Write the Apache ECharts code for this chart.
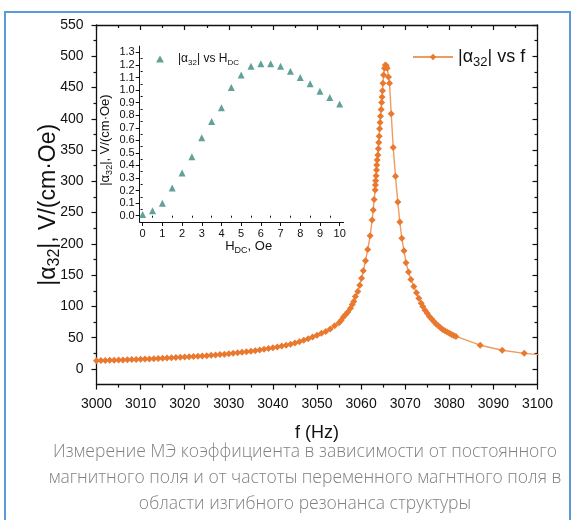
<!DOCTYPE html>
<html>
<head>
<meta charset="utf-8">
<script src="https://cdn.jsdelivr.net/npm/echarts@6/dist/echarts.min.js"></script>
<style>
  html, body { margin: 0; padding: 0; background: #ffffff; }
  #chart { width: 574px; height: 520px; }
</style>
</head>
<body>
<div id="chart"></div>
<script>
// Frequency sweep across the bending resonance: f (Hz) and |α32|, V/(cm·Oe)
const sweepFreq = [
  3000, 3001, 3002, 3003, 3004, 3005, 3006, 3007, 3008, 3009,
  3010, 3011, 3012, 3013, 3014, 3015, 3016, 3017, 3018, 3019,
  3020, 3021, 3022, 3023, 3024, 3025, 3026, 3027, 3028, 3029,
  3030, 3031, 3032, 3033, 3034, 3035, 3036, 3037, 3038, 3039,
  3040, 3041, 3042, 3043, 3044, 3045, 3046, 3047, 3048, 3049,
  3050, 3051, 3052, 3053, 3054, 3055, 3055.5, 3056, 3056.5, 3057,
  3057.6, 3058.0, 3058.35, 3058.7, 3059.25, 3059.7, 3060.1, 3060.5, 3061.0, 3061.5,
  3062.05, 3062.5, 3062.75, 3062.95, 3063.2, 3063.25, 3063.3, 3063.4, 3063.5, 3063.55,
  3063.65, 3063.8, 3063.9, 3064.0, 3064.1, 3064.2, 3064.3, 3064.4, 3064.55, 3064.65,
  3064.75, 3064.85, 3064.95, 3065.1, 3065.3, 3065.5, 3065.7, 3065.92, 3066.21, 3066.44,
  3066.83, 3067.28, 3067.8, 3068.32, 3068.78, 3069.23, 3069.73, 3070.18, 3070.75, 3071.3,
  3071.95, 3072.56, 3073.08, 3073.63, 3074.0, 3074.5, 3075.0, 3075.5, 3076.0, 3076.5,
  3077.0, 3077.5, 3078.0, 3078.5, 3079.0, 3079.5, 3080.0, 3080.5, 3081.0, 3081.5,
  3087, 3092, 3097, 3102
];
const sweepAlpha = [
  13.2, 13.4, 13.6, 13.8, 14.0, 14.3, 14.5, 14.8, 15.0, 15.3,
  15.6, 15.9, 16.1, 16.5, 16.8, 17.1, 17.5, 17.8, 18.2, 18.6,
  19.0, 19.4, 19.9, 20.3, 20.8, 21.3, 21.9, 22.4, 23.0, 23.7,
  24.3, 25.0, 25.8, 26.6, 27.4, 28.3, 29.3, 30.3, 31.4, 32.6,
  33.9, 35.2, 36.6, 38.1, 39.7, 41.6, 43.6, 46, 48.5, 51,
  54, 57, 60, 64, 69, 74, 78, 83, 87, 91,
  97, 103, 108, 116, 124, 134, 145, 157, 173, 191,
  213, 238, 254, 271, 286, 294, 301, 309, 318, 326,
  334, 342, 352, 362, 372, 384, 394, 404, 415, 426,
  435, 445, 457, 470, 481, 486, 485, 481, 467, 457,
  408, 354, 308, 267, 235, 209, 189, 170, 155, 143,
  132, 122, 113, 105, 100, 94, 89, 84, 80, 76,
  72, 69, 66, 63, 61, 59, 57, 55, 53.5, 52,
  38, 30, 25, 22
];

// DC bias field dependence: H_DC (Oe) and |α32|
const fieldHdc = [0, 0.5, 1, 1.5, 2, 2.5, 3, 3.5, 4, 4.5, 5, 5.5, 6, 6.5, 7, 7.5, 8, 8.5, 9, 9.5, 10];
const fieldAlpha = [0.01, 0.04, 0.10, 0.22, 0.34, 0.47, 0.62, 0.75, 0.86, 1.02, 1.12, 1.19, 1.21, 1.21, 1.19, 1.15, 1.10, 1.05, 0.99, 0.94, 0.89];

// Tick positions
const alphaMajorTicks = [0, 50, 100, 150, 200, 250, 300, 350, 400, 450, 500, 550];
const alphaMinorTicks = [25, 75, 125, 175, 225, 275, 325, 375, 425, 475, 525];
const hdcMajorTicks = [0, 1, 2, 3, 4, 5, 6, 7, 8, 9, 10];
const hdcMinorTicks = [0.5, 1.5, 2.5, 3.5, 4.5, 5.5, 6.5, 7.5, 8.5, 9.5];
const insetMajorTicks = [0, 0.1, 0.2, 0.3, 0.4, 0.5, 0.6, 0.7, 0.8, 0.9, 1.0, 1.1, 1.2, 1.3];
const insetMinorTicks = [0.05, 0.15, 0.25, 0.35, 0.45, 0.55, 0.65, 0.75, 0.85, 0.95, 1.05, 1.15, 1.25];

const captionLines = [
  'Измерение МЭ коэффициента в зависимости от постоянного',
  'магнитного поля и от частоты переменного магнтного поля в',
  'области изгибного резонанса структуры'
];

const sweepData = sweepFreq.map((f, i) => [f, sweepAlpha[i]]);
const fieldData = fieldHdc.map((h, i) => [h, fieldAlpha[i]]);

const FONT = 'Liberation Sans, Arial, sans-serif';
const INK = '#111111';
const ORANGE = '#e8792f';
const TEAL = '#3a8a7e';

const subRich = (size, drop) => ({ sub: { fontSize: size, fontFamily: FONT, color: INK, padding: [drop, 0, 0, 0] } });

function valueAxis(opts) {
  return Object.assign({
    type: 'value',
    scale: false,
    nameMoveOverlap: false,
    splitLine: { show: false },
    axisLine: { show: true, onZero: false, lineStyle: { color: INK, width: 1.3 } },
    axisTick: { show: false },
    axisLabel: { show: false },
    minorTick: { show: false }
  }, opts);
}

const chart = echarts.init(document.getElementById('chart'), null, { renderer: 'canvas' });

chart.setOption({
  animation: false,
  backgroundColor: '#ffffff',
  grid: [
    { left: 96.5, right: 36.5, top: 25, bottom: 135.4, containLabel: false },
    { left: 139.7, top: 46.1, width: 203.9, height: 175.9, containLabel: false }
  ],
  xAxis: [
    valueAxis({
      gridIndex: 0, position: 'bottom', min: 3000, max: 3100, interval: 10,
      axisTick: { show: true, inside: false, length: 5, lineStyle: { color: INK, width: 1.2 } },
      minorTick: { show: true, splitNumber: 2, length: 3, lineStyle: { color: INK, width: 1.2 } },
      axisLabel: { show: true, margin: 13, fontFamily: FONT, fontSize: 14, color: INK, formatter: v => String(v) },
      name: 'f (Hz)', nameLocation: 'middle', nameGap: 39,
      nameTextStyle: { fontFamily: FONT, fontSize: 18, color: INK }
    }),
    valueAxis({
      gridIndex: 0, position: 'top', min: 3000, max: 3100, interval: 10,
      axisTick: { show: true, inside: true, length: 5, lineStyle: { color: INK, width: 1.2 } },
      minorTick: { show: true, splitNumber: 2, length: 3, lineStyle: { color: INK, width: 1.2 } }
    }),
    valueAxis({
      gridIndex: 1, position: 'bottom', min: -0.15, max: 10.2,
      axisLine: { show: true, onZero: false, lineStyle: { color: INK, width: 1 } },
      axisTick: { show: true, inside: false, length: 4, customValues: hdcMajorTicks, lineStyle: { color: INK, width: 1 } },
      axisLabel: { show: true, margin: 6, customValues: hdcMajorTicks, fontFamily: FONT, fontSize: 11, color: INK },
      name: 'H{sub|DC}, Oe', nameLocation: 'middle', nameGap: 16,
      nameTextStyle: { fontFamily: FONT, fontSize: 13, color: INK, padding: [0, 0, 0, 14], rich: subRich(9, 8) }
    }),
    valueAxis({
      gridIndex: 1, position: 'bottom', min: -0.15, max: 10.2,
      axisLine: { show: false },
      axisTick: { show: true, inside: false, length: 2, customValues: hdcMinorTicks, lineStyle: { color: INK, width: 1 } }
    })
  ],
  yAxis: [
    valueAxis({
      gridIndex: 0, position: 'left', min: -25, max: 550,
      axisTick: { show: true, inside: false, length: 5, customValues: alphaMajorTicks, lineStyle: { color: INK, width: 1.2 } },
      axisLabel: { show: true, margin: 13, customValues: alphaMajorTicks, fontFamily: FONT, fontSize: 14, color: INK },
      name: '|α{sub|32}|, V/(cm·Oe)', nameLocation: 'middle', nameGap: 34, nameRotate: 90,
      nameTextStyle: { fontFamily: FONT, fontSize: 23, color: INK, rich: subRich(16, 11) }
    }),
    valueAxis({
      gridIndex: 0, position: 'left', min: -25, max: 550,
      axisLine: { show: false },
      axisTick: { show: true, inside: false, length: 3, customValues: alphaMinorTicks, lineStyle: { color: INK, width: 1.2 } }
    }),
    valueAxis({
      gridIndex: 0, position: 'right', min: -25, max: 550,
      axisTick: { show: true, inside: true, length: 5, customValues: alphaMajorTicks, lineStyle: { color: INK, width: 1.2 } }
    }),
    valueAxis({
      gridIndex: 0, position: 'right', min: -25, max: 550,
      axisLine: { show: false },
      axisTick: { show: true, inside: true, length: 3, customValues: alphaMinorTicks, lineStyle: { color: INK, width: 1.2 } }
    }),
    valueAxis({
      gridIndex: 1, position: 'left', min: -0.05, max: 1.35,
      axisLine: { show: true, onZero: false, lineStyle: { color: INK, width: 1 } },
      axisTick: { show: true, inside: false, length: 4, customValues: insetMajorTicks, lineStyle: { color: INK, width: 1 } },
      axisLabel: {
        show: true, margin: 5, customValues: insetMajorTicks, fontFamily: FONT, fontSize: 11, color: INK,
        formatter: v => v.toFixed(1)
      },
      name: '|α{sub|32}|, V/(cm·Oe)', nameLocation: 'middle', nameGap: 26, nameRotate: 90,
      nameTextStyle: { fontFamily: FONT, fontSize: 13, color: INK, padding: [0, 12, 0, 0], rich: subRich(9, 7) }
    }),
    valueAxis({
      gridIndex: 1, position: 'left', min: -0.05, max: 1.35,
      axisLine: { show: false },
      axisTick: { show: true, inside: false, length: 2, customValues: insetMinorTicks, lineStyle: { color: INK, width: 1 } }
    })
  ],
  legend: [
    {
      data: ['sweep'], left: 407, top: 43, itemWidth: 40, itemHeight: 8, itemGap: 0,
      formatter: () => '|α{sub|32}| vs f',
      textStyle: { fontFamily: FONT, fontSize: 18, color: INK, rich: subRich(13, 10) }
    },
    {
      data: ['field'], left: 151, top: 48, itemWidth: 8, itemHeight: 7, itemGap: 0,
      formatter: () => '|α{sub|32}| vs H{sub|DC}',
      textStyle: { fontFamily: FONT, fontSize: 12, color: INK, padding: [0, 0, 0, 9], rich: subRich(8, 7) }
    }
  ],
  series: [
    {
      name: 'sweep', type: 'line', xAxisIndex: 0, yAxisIndex: 0,
      data: sweepData, clip: true, showAllSymbol: true,
      symbol: 'diamond', symbolSize: 7,
      itemStyle: { color: ORANGE },
      lineStyle: { color: '#ef9a60', width: 1.4 },
      emphasis: { disabled: true }
    },
    {
      name: 'field', type: 'scatter', xAxisIndex: 2, yAxisIndex: 4,
      data: fieldData, symbol: 'triangle', symbolSize: 7,
      itemStyle: { color: TEAL },
      emphasis: { disabled: true }
    }
  ],
  graphic: [
    {
      type: 'rect', silent: true, z: -10,
      shape: { x: 5, y: 12, width: 565, height: 530 },
      style: { fill: 'none', stroke: '#5b9bd5', lineWidth: 2 }
    },
    {
      type: 'text', silent: true, x: 305, y: 439,
      style: {
        text: captionLines.join('\n'),
        align: 'center', verticalAlign: 'top',
        font: '300 17.5px "Open Sans", sans-serif', lineHeight: 26,
        fill: '#808080'
      }
    }
  ]
});
</script>
</body>
</html>
